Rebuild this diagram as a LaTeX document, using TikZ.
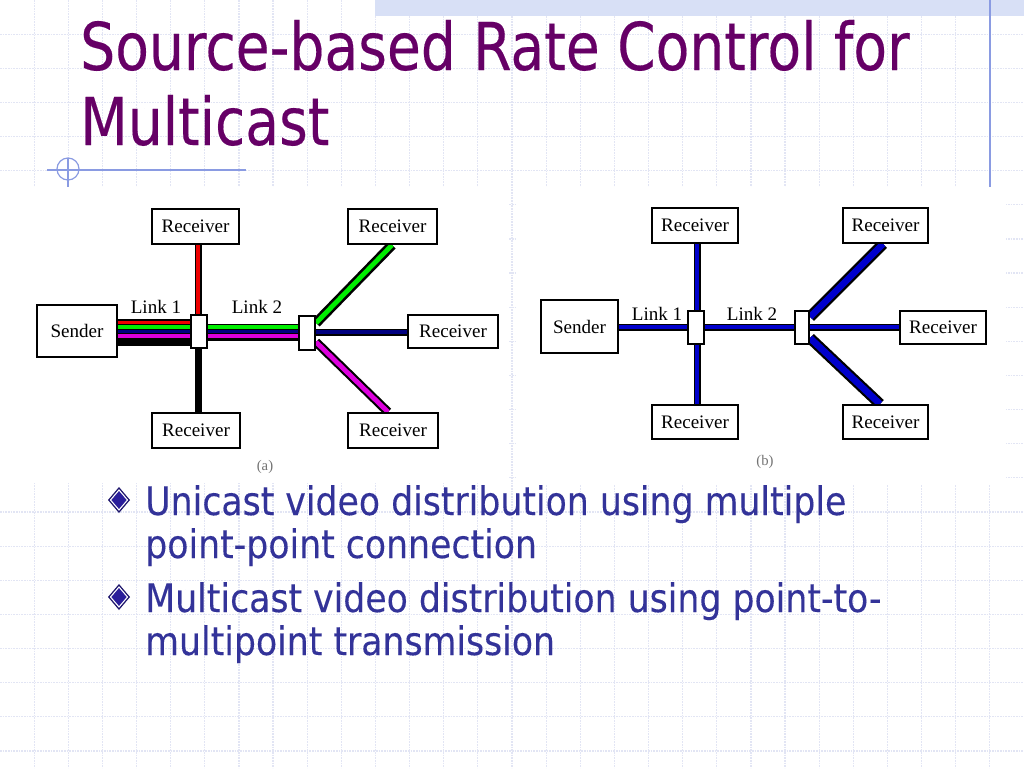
\documentclass[tikz,border=0pt]{standalone}
\usepackage{fontspec}
\usetikzlibrary{calc}
\newfontfamily\tah[FakeStretch=0.835,FakeBold=0.25]{DejaVu Sans}
\newfontfamily\tahb[FakeStretch=0.882,FakeBold=0.2]{DejaVu Sans}
\newfontfamily\tms{Liberation Serif}
\definecolor{gridc}{HTML}{E2E5F4}
\definecolor{bandc}{HTML}{D8E0F6}
\definecolor{decoc}{HTML}{8A9BE2}
\definecolor{titlec}{HTML}{660066}
\definecolor{bodyc}{HTML}{333399}
\definecolor{navyc}{HTML}{000080}
\definecolor{bluec}{HTML}{0000CC}
\definecolor{greenc}{HTML}{00EE00}
\definecolor{redc}{HTML}{EE0000}
\definecolor{magc}{HTML}{DD00DD}
\definecolor{diamc}{HTML}{2A1E9A}
\pgfdeclarelayer{back}
\pgfdeclarelayer{mid}
\pgfsetlayers{back,mid,main}
\tikzset{
  box/.style={draw=black, line width=1.5pt, fill=white, inner sep=0pt, font=\tms\fontsize{14.3}{16}\selectfont},
  sw/.style={draw=black, line width=1.5pt, fill=white, inner sep=0pt},
  lbl/.style={inner sep=0pt, font=\tms\fontsize{14.3}{16}\selectfont},
  figcap/.style={inner sep=0pt, text=black!55, font=\tms\fontsize{11}{12}\selectfont},
  ttl/.style={anchor=base west, inner sep=0pt, text=titlec, font=\tah\fontsize{49.5}{55}\selectfont},
  bod/.style={anchor=base west, inner sep=0pt, text=bodyc, font=\tahb\fontsize{29.5}{33}\selectfont},
  blk/.style={line width=#1, draw=black},
  col/.style 2 args={line width=#2, draw=#1},
}
\begin{document}
\begin{tikzpicture}[x=0.75pt,y=-0.75pt]
\useasboundingbox (0,0) rectangle (1024,768);
\begin{pgfonlayer}{back}
  \fill[white] (0,0) rectangle (1024,768);
  \foreach \k in {1,...,29} \draw[gridc, line width=0.9pt, dash pattern=on 1.2pt off 0.8pt] ({\k*34.133},0) -- ({\k*34.133},768);
  \foreach \k in {1,...,22} \draw[gridc, line width=0.9pt, dash pattern=on 1.2pt off 0.8pt] (0,{\k*34.133}) -- (1024,{\k*34.133});
  \fill[bandc] (375,0) rectangle (1024,16);
  \draw[decoc, line width=1pt] (990,0) -- (990,187);
  \draw[decoc, line width=0.9pt] (47,170) -- (246,170);
  \draw[decoc, line width=0.9pt] (68,169) circle (11);
  \draw[decoc, line width=0.9pt] (68,158) -- (68,188);
  % picture areas
  \fill[white] (0,187) rectangle (509,483);
  \fill[white] (517,187) rectangle (1006,485);
\end{pgfonlayer}

% title
\node[ttl] (t1) at (80,70) {Source-based Rate Control for};
\node[ttl] (t2) at (80,145) {Multicast};

% ---------------- (a)
\node[box, minimum width=60pt, minimum height=39pt] (sendA) at (77,331) {Sender};
\node[sw, minimum width=12pt, minimum height=24.75pt] (sw1A) at (199,331.5) {};
\node[sw, minimum width=12pt, minimum height=25.5pt] (sw2A) at (307,333) {};
\node[box, minimum width=65.25pt, minimum height=26.25pt] (r1A) at (195.5,226.5) {Receiver};
\node[box, minimum width=66pt, minimum height=26.25pt] (r2A) at (196,430.5) {Receiver};
\node[box, minimum width=66.75pt, minimum height=26.25pt] (r3A) at (392.5,226.5) {Receiver};
\node[box, minimum width=67.5pt, minimum height=24.75pt] (r4A) at (453,331.5) {Receiver};
\node[box, minimum width=67.5pt, minimum height=26.25pt] (r5A) at (393,430.5) {Receiver};
\node[lbl] (l1A) at (156,307) {Link 1};
\node[lbl] (l2A) at (257,307) {Link 2};
\node[figcap] (capA) at (265,467) {(a)};

\begin{pgfonlayer}{mid}
  % link 1 bundle
  \draw[blk=20.25pt] (sendA.east |- 0,332.5) -- (sw1A.west |- 0,332.5);
  \draw[col={redc}{2.4pt}] (sendA.east |- 0,322.5) -- (sw1A.west |- 0,322.5);
  \draw[col={greenc}{2.4pt}] (sendA.east |- 0,327) -- (sw1A.west |- 0,327);
  \draw[col={navyc}{2.4pt}] (sendA.east |- 0,331.5) -- (sw1A.west |- 0,331.5);
  \draw[col={magc}{2.4pt}] (sendA.east |- 0,336) -- (sw1A.west |- 0,336);
  % link 2 bundle
  \draw[blk=12.75pt] (sw1A.east |- 0,332) -- (sw2A.west |- 0,332);
  \draw[col={greenc}{2.4pt}] (sw1A.east |- 0,327) -- (sw2A.west |- 0,327);
  \draw[col={navyc}{2.4pt}] (sw1A.east |- 0,331.5) -- (sw2A.west |- 0,331.5);
  \draw[col={magc}{2.4pt}] (sw1A.east |- 0,336) -- (sw2A.west |- 0,336);
  % red up
  \draw[blk=5.25pt] (r1A.south -| 198,0) -- (sw1A.north -| 198,0);
  \draw[col={redc}{2.6pt}] (r1A.south -| 198,0) -- (sw1A.north -| 198,0);
  % black down
  \draw[blk=5.25pt] (sw1A.south -| 198,0) -- (r2A.north -| 198,0);
  % green diagonal
  \draw[blk=7.5pt] (sw2A.east |- 0,323) -- (r3A.south -| 392,0);
  \draw[col={greenc}{3.6pt}] (sw2A.east |- 0,323) -- (r3A.south -| 392,0);
  % navy
  \draw[blk=5.25pt] (sw2A.east |- 0,332) -- (r4A.west |- 0,332);
  \draw[col={navyc}{2.4pt}] (sw2A.east |- 0,332) -- (r4A.west |- 0,332);
  % magenta diagonal
  \draw[blk=6.75pt] (sw2A.east |- 0,342) -- (r5A.north -| 388,0);
  \draw[col={magc}{3.6pt}] (sw2A.east |- 0,342) -- (r5A.north -| 388,0);
\end{pgfonlayer}

% ---------------- (b)
\node[box, minimum width=57.75pt, minimum height=39.75pt] (sendB) at (579.5,326.5) {Sender};
\node[sw, minimum width=12pt, minimum height=24.75pt] (sw1B) at (696,327.5) {};
\node[sw, minimum width=10.5pt, minimum height=24.75pt] (sw2B) at (802,327.5) {};
\node[box, minimum width=64.5pt, minimum height=26.25pt] (r1B) at (695,225.5) {Receiver};
\node[box, minimum width=64.5pt, minimum height=25.5pt] (r2B) at (695,422) {Receiver};
\node[box, minimum width=63.75pt, minimum height=26.25pt] (r3B) at (885.5,225.5) {Receiver};
\node[box, minimum width=64.5pt, minimum height=24.75pt] (r4B) at (943,327.5) {Receiver};
\node[box, minimum width=63.75pt, minimum height=25.5pt] (r5B) at (885.5,422) {Receiver};
\node[lbl] (l1B) at (657,314) {Link 1};
\node[lbl] (l2B) at (752,314) {Link 2};
\node[figcap] (capB) at (765,462) {(b)};

\begin{pgfonlayer}{mid}
  \foreach \a/\b in {{sendB.east |- 0,327}/{sw1B.west |- 0,327},
                     {sw1B.east |- 0,327}/{sw2B.west |- 0,327},
                     {sw2B.east |- 0,327}/{r4B.west |- 0,327},
                     {r1B.south -| 697,0}/{sw1B.north -| 697,0},
                     {sw1B.south -| 697,0}/{r2B.north -| 697,0}}{
    \draw[blk=5.25pt] (\a) -- (\b);
    \draw[col={bluec}{3pt}] (\a) -- (\b);
  }
  \draw[blk=8.25pt] (sw2B.east |- 0,317) -- (r3B.south -| 883,0);
  \draw[col={bluec}{5pt}] (sw2B.east |- 0,317) -- (r3B.south -| 883,0);
  \draw[blk=8.25pt] (sw2B.east |- 0,338) -- (r5B.north -| 880,0);
  \draw[col={bluec}{5pt}] (sw2B.east |- 0,338) -- (r5B.north -| 880,0);
\end{pgfonlayer}

% bullets
\foreach \n/\y in {d1/500, d2/597}{
  \coordinate (\n) at (119,\y);
  \fill[diamc!70!black] ($(\n)+(0,-13)$) -- ($(\n)+(11,0)$) -- ($(\n)+(0,13)$) -- ($(\n)+(-11,0)$) -- cycle;
  \draw[white, line width=0.8pt, fill=diamc] ($(\n)+(0,-10)$) -- ($(\n)+(8.5,0)$) -- ($(\n)+(0,10)$) -- ($(\n)+(-8.5,0)$) -- cycle;
}
\node[bod] (b1) at (145,515) {Unicast video distribution using multiple};
\node[bod] (b2) at (145,558) {point-point connection};
\node[bod] (b3) at (145,612) {Multicast video distribution using point-to-};
\node[bod] (b4) at (145,655) {multipoint transmission};
\end{tikzpicture}
\end{document}
